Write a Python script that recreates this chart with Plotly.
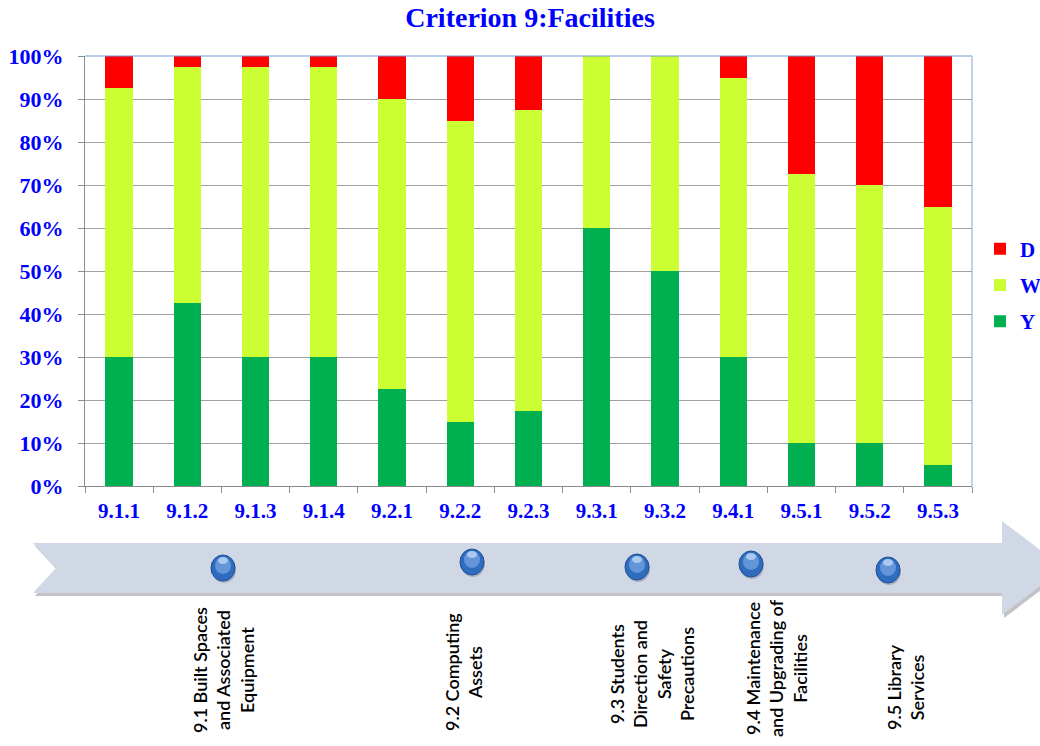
import plotly.graph_objects as go

# ---- data -------------------------------------------------------------
indicators = ["9.1.1", "9.1.2", "9.1.3", "9.1.4", "9.2.1", "9.2.2", "9.2.3",
              "9.3.1", "9.3.2", "9.4.1", "9.5.1", "9.5.2", "9.5.3"]
y_share = [30, 42.5, 30, 30, 22.5, 15, 17.5, 60, 50, 30, 10, 10, 5]
w_share = [62.5, 55, 67.5, 67.5, 67.5, 70, 70, 40, 50, 65, 62.5, 60, 60]
d_share = [7.5, 2.5, 2.5, 2.5, 10, 15, 12.5, 0, 0, 5, 27.5, 30, 35]

series_names = ["Y", "W", "D"]
series_colors = ["#00b050", "#ccff33", "#ff0000"]
legend_ranks = [3, 2, 1]

sub_criteria = [
    "9.1 Built Spaces<br>and Associated<br>Equipment",
    "9.2 Computing<br>Assets",
    "9.3 Students<br>Direction and<br>Safety<br>Precautions",
    "9.4 Maintenance<br>and Upgrading of<br>Facilities",
    "9.5 Library<br>Services",
]
# where each sub-criterion sits along the timeline ribbon (pixels)
sub_x = [223, 463, 652, 776, 905]
sub_text_y = [670, 672, 674, 668, 687]
bubble_x = [223, 472, 637, 751, 888]
bubble_y = [568, 562, 567, 564, 570]

# ---- page geometry ----------------------------------------------------
W, H = 1040, 746
L, R, T, B = 85, 68, 56, 260
PW, PH = W - L - R, H - T - B


def px(x):
    return (x - L) / PW


def py(y):
    return (H - B - y) / PH


BLUE = "#0000ff"
SERIF = "Liberation Serif"

fig = go.Figure()
for name, vals, col, rk in zip(series_names, [y_share, w_share, d_share],
                               series_colors, legend_ranks):
    fig.add_trace(go.Bar(
        x=indicators, y=vals, name=name, legendgroup=name, legendrank=rk,
        marker=dict(color=col, line=dict(width=0)),
    ))

fig.update_layout(
    width=W, height=H,
    margin=dict(l=L, r=R, t=T, b=B, autoexpand=False),
    barmode="stack", bargap=0.6,
    plot_bgcolor="white", paper_bgcolor="white",
    title=dict(text="<b>Criterion 9:Facilities</b>", xref="paper", x=px(530),
               xanchor="center", y=1 - 17 / H, yanchor="middle",
               font=dict(family=SERIF, size=28, color=BLUE)),
    legend=dict(x=px(980), xanchor="left", y=py(285), yanchor="middle",
                traceorder="grouped", tracegroupgap=6, itemwidth=30,
                font=dict(family=SERIF, size=21, color=BLUE, weight="bold"),
                bgcolor="rgba(0,0,0,0)"),
    showlegend=True,
)

fig.update_yaxes(
    range=[0, 100], dtick=10, ticksuffix="%",
    showgrid=True, gridcolor="#a0a0a0", gridwidth=1.2,
    showline=True, linecolor="#8c8c8c", linewidth=1,
    ticks="outside", ticklen=6, tickcolor="#8c8c8c",
    ticklabelstandoff=10,
    tickfont=dict(family=SERIF, size=22, color=BLUE, weight="bold"),
    zeroline=False, fixedrange=True,
)
fig.update_xaxes(
    showline=True, linecolor="#8c8c8c", linewidth=1,
    ticks="outside", ticklen=6, tickcolor="#8c8c8c", tickson="boundaries",
    tickfont=dict(family=SERIF, size=21, color=BLUE, weight="bold"),
    ticklabelstandoff=6,
    fixedrange=True,
)

shapes = []
# plot-area frame (top and right edges)
shapes.append(dict(type="line", xref="paper", yref="paper", x0=0, x1=1, y0=1, y1=1,
                   line=dict(color="#6f9ad8", width=1.2), layer="above"))
shapes.append(dict(type="line", xref="paper", yref="paper", x0=1, x1=1, y0=0, y1=1,
                   line=dict(color="#95b4e0", width=1.2), layer="above"))


def ribbon_path(pts):
    return "M " + " L ".join(f"{px(a):.5f},{py(b):.5f}" for a, b in pts) + " Z"


ribbon = [(33, 543), (56, 568), (33, 593), (1002, 593), (1002, 615),
          (1064, 568), (1002, 521), (1002, 543)]
shadow = [(a + 2, b + 3) for a, b in ribbon]
shapes.append(dict(type="path", xref="paper", yref="paper", path=ribbon_path(shadow),
                   fillcolor="rgba(120,120,130,0.45)", line=dict(width=0), layer="below"))
shapes.append(dict(type="path", xref="paper", yref="paper", path=ribbon_path(ribbon),
                   fillcolor="#d0d8e6", line=dict(width=0), layer="below"))

# glossy bubbles along the ribbon
for bx, by in zip(bubble_x, bubble_y):
    rx, ry = 12, 13
    shapes.append(dict(type="circle", xref="paper", yref="paper",
                       x0=px(bx - rx + 1), x1=px(bx + rx + 1), y0=py(by + ry + 2), y1=py(by - ry + 2),
                       fillcolor="rgba(60,60,80,0.25)", line=dict(width=0)))
    shapes.append(dict(type="circle", xref="paper", yref="paper",
                       x0=px(bx - rx), x1=px(bx + rx), y0=py(by + ry), y1=py(by - ry),
                       fillcolor="#2f6cbd", line=dict(color="#1f4f95", width=1)))
    shapes.append(dict(type="circle", xref="paper", yref="paper",
                       x0=px(bx - 8), x1=px(bx + 8), y0=py(by + 6), y1=py(by - 11),
                       fillcolor="rgba(140,185,240,0.55)", line=dict(width=0)))
    shapes.append(dict(type="circle", xref="paper", yref="paper",
                       x0=px(bx - 5), x1=px(bx + 5), y0=py(by - 4), y1=py(by - 11),
                       fillcolor="rgba(220,235,255,0.6)", line=dict(width=0)))

annotations = []
for txt, x, y in zip(sub_criteria, sub_x, sub_text_y):
    annotations.append(dict(
        text=txt, xref="paper", yref="paper", x=px(x), y=py(y),
        xanchor="center", yanchor="middle", textangle=-90, align="center",
        showarrow=False, font=dict(family="Lato", size=18, color="#000000", weight=600),
    ))

fig.update_layout(shapes=shapes, annotations=annotations)

fig.write_html("out.html")
